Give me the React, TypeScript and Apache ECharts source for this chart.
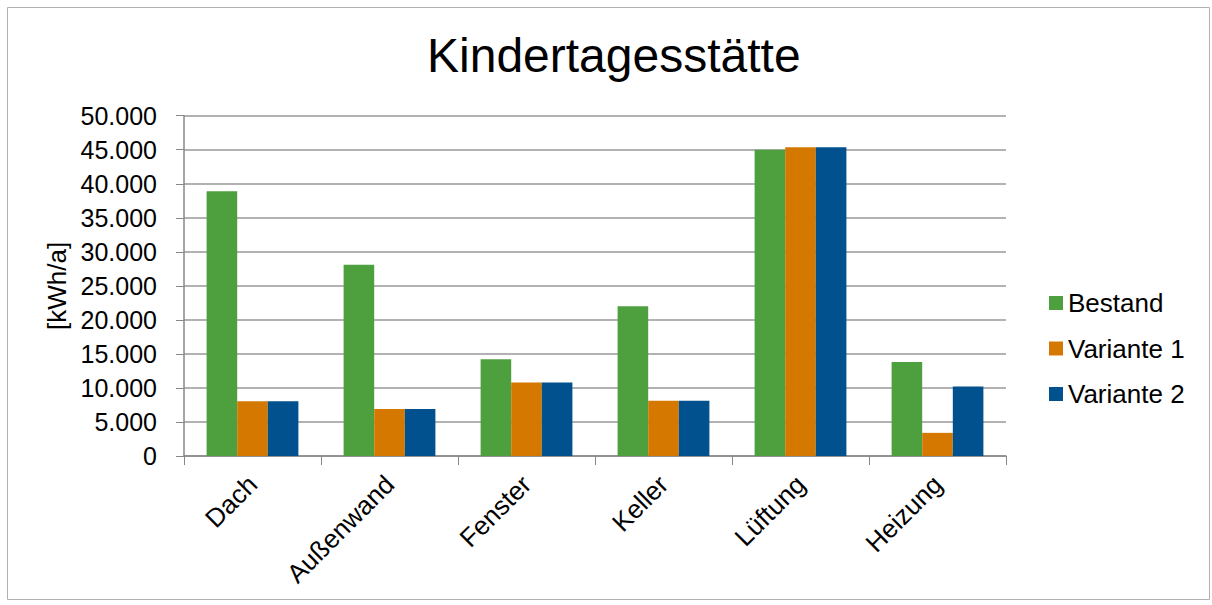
import React, { useEffect, useRef } from "react";
import * as echarts from "echarts";

const categories = ["Dach", "Außenwand", "Fenster", "Keller", "Lüftung", "Heizung"];
const bestand = [38900, 28100, 14200, 22000, 45000, 13800];
const variante1 = [8050, 6900, 10800, 8100, 45350, 3400];
const variante2 = [8050, 6900, 10800, 8100, 45350, 10200];
const seriesNames = ["Bestand", "Variante 1", "Variante 2"];
const colors = ["#4EA03E", "#D57800", "#01518E"];

const fmt = (v: number) => String(v).replace(/\B(?=(\d{3})+(?!\d))/g, ".");

export default function App() {
  const ref = useRef<HTMLDivElement>(null);
  useEffect(() => {
    const chart = echarts.init(ref.current!, null, { renderer: "svg" });
    const font = "'Liberation Sans', Arial, sans-serif";
    chart.setOption({
      animation: false,
      backgroundColor: "#ffffff",
      textStyle: { fontFamily: font },
      title: {
        text: "Kindertagesstätte",
        left: 427,
        top: 31,
        padding: 0,
        textStyle: { fontSize: 48, fontWeight: "normal", color: "#000", fontFamily: font },
      },
      graphic: [
        {
          type: "rect",
          shape: { x: 7.5, y: 7.5, width: 1202, height: 592 },
          style: { fill: "none", stroke: "#b0b0b0", lineWidth: 1 },
          silent: true,
        },
      ],
      legend: {
        orient: "vertical",
        left: 1049,
        top: 290,
        padding: 0,
        itemWidth: 14,
        itemHeight: 14,
        itemGap: 19.5,
        icon: "rect",
        textStyle: { fontSize: 26, lineHeight: 26, color: "#000", fontFamily: font },
        data: seriesNames,
      },
      grid: { left: 184, top: 115.7, right: 206, bottom: 149 },
      xAxis: {
        type: "category",
        data: categories,
        axisLine: { lineStyle: { color: "#888888", width: 1.5 } },
        axisTick: { show: true, length: 9, lineStyle: { color: "#888888" } },
        axisLabel: {
          rotate: 45,
          fontSize: 26,
          color: "#000",
          margin: 24,
          fontFamily: font,
        },
      },
      yAxis: {
        type: "value",
        min: 0,
        max: 50000,
        interval: 5000,
        name: "[kWh/a]",
        nameLocation: "middle",
        nameRotate: 90,
        nameGap: 114,
        nameMoveOverlap: false,
        nameTextStyle: { fontSize: 26, color: "#000", fontFamily: font },
        axisLine: { show: true, lineStyle: { color: "#888888", width: 1.5 } },
        axisTick: { show: true, length: 8, lineStyle: { color: "#888888" } },
        axisLabel: {
          fontSize: 25,
          color: "#000",
          margin: 27,
          fontFamily: font,
          formatter: (v: number) => fmt(v),
        },
        splitLine: { show: true, lineStyle: { color: "#999999", width: 1.5 } },
      },
      series: [bestand, variante1, variante2].map((d, i) => ({
        name: seriesNames[i],
        type: "bar",
        data: d,
        barGap: "0%",
        barCategoryGap: "33%",
        itemStyle: { color: colors[i] },
      })),
    });
    return () => chart.dispose();
  }, []);
  return (
    <div
      ref={ref}
      style={{ position: "absolute", left: 0, top: 0, width: 1212, height: 605 }}
    />
  );
}
